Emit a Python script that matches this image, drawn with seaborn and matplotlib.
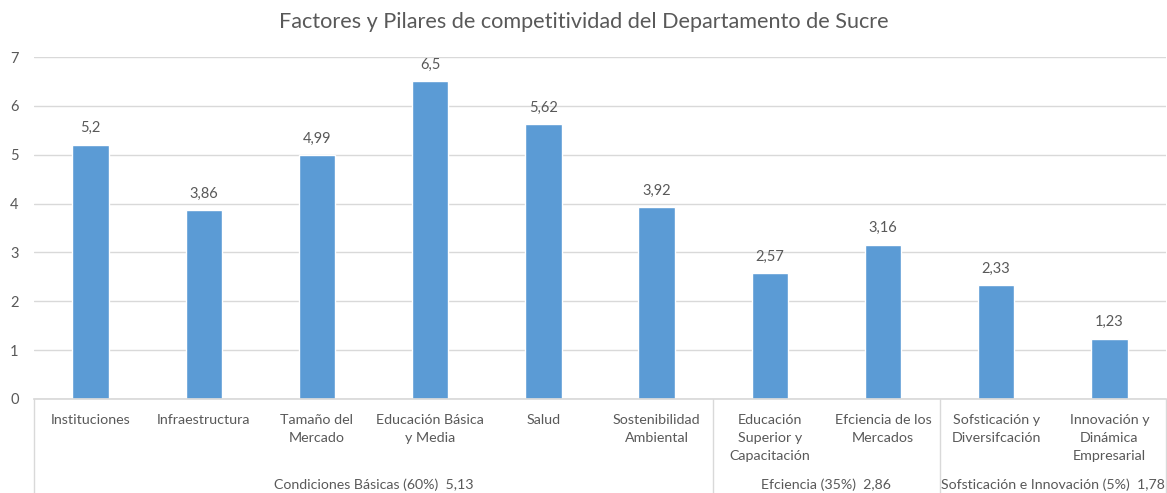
import matplotlib
matplotlib.use("Agg")

import numpy as np
import pandas as pd
import matplotlib.pyplot as plt
import matplotlib.transforms as mtransforms
import seaborn as sns


pilares = [
    "Instituciones",
    "Infraestructura",
    "Tamaño del\nMercado",
    "Educación Básica\ny Media",
    "Salud",
    "Sostenibilidad\nAmbiental",
    "Educación\nSuperior y\nCapacitación",
    "Efciencia de los\nMercados",
    "Sofsticación y\nDiversifcación",
    "Innovación y\nDinámica\nEmpresarial",
]
valores = [5.2, 3.86, 4.99, 6.5, 5.62, 3.92, 2.57, 3.16, 2.33, 1.23]

factores = [
    "Condiciones Básicas (60%)  5,13",
    "Efciencia (35%)  2,86",
    "Sofsticación e Innovación (5%)  1,78",
]
factor_size = [6, 2, 2]

BAR = "#5B9BD5"
TEXT = "#595959"
GRID = "#D9D9D9"


def fmt(v):
    s = f"{v:.2f}".rstrip("0").rstrip(".")
    return s.replace(".", ",")


def main():

    sns.set_theme(style="white")
    plt.rcParams["font.family"] = ["Lato", "DejaVu Sans"]

    df = pd.DataFrame({"pilar": pilares, "valor": valores})

    fig = plt.figure(figsize=(11.67, 4.93), dpi=100)
    ax = fig.add_axes([34 / 1167, 94 / 493, 1132 / 1167, 342 / 493])

    sns.barplot(
        data=df,
        x="pilar",
        y="valor",
        color=BAR,
        saturation=1,
        width=0.32,
        ax=ax
    )

    ax.bar_label(
        ax.containers[0],
        labels=[fmt(v) for v in valores],
        padding=7,
        color=TEXT,
        fontsize=10.5
    )

    ax.set_ylim(0, 7)
    ax.set_xlim(-0.5, len(pilares) - 0.5)
    ax.set_yticks(range(0, 8))
    ax.yaxis.grid(True, color=GRID, linewidth=1)
    ax.set_axisbelow(True)

    ax.set_xlabel("")
    ax.set_ylabel("")

    for side in ["top", "right", "left"]:
        ax.spines[side].set_visible(False)
    ax.spines["bottom"].set_color(GRID)

    ax.set_xticks(
        range(len(pilares)),
        pilares,
        linespacing=1.6,
        verticalalignment="top"
    )
    ax.tick_params(axis="x", length=0, pad=11, labelsize=10.3, labelcolor=TEXT)
    ax.tick_params(axis="y", length=0, pad=11, labelsize=10.5, labelcolor=TEXT)

    # -----------------------
    # Group separators and labels
    # -----------------------

    trans = mtransforms.blended_transform_factory(ax.transData, ax.transAxes)
    low = -94 / 342

    start = -0.5
    edges = [start]
    for size, name in zip(factor_size, factores):
        end = start + size
        ax.text(
            (start + end) / 2, -0.25, name,
            transform=trans, ha="center", va="center",
            fontsize=10.2, color=TEXT
        )
        start = end
        edges.append(end)

    for e in edges:
        ax.plot([e, e], [0, low], transform=trans, color=GRID,
                linewidth=1, clip_on=False)

    fig.suptitle(
        "Factores y Pilares de competitividad del Departamento de Sucre",
        y=1 - 22 / 493, va="center", fontsize=15.6, color=TEXT
    )

    fig.savefig("out.png", dpi=100)
    plt.close(fig)


if __name__ == "__main__":
    main()
